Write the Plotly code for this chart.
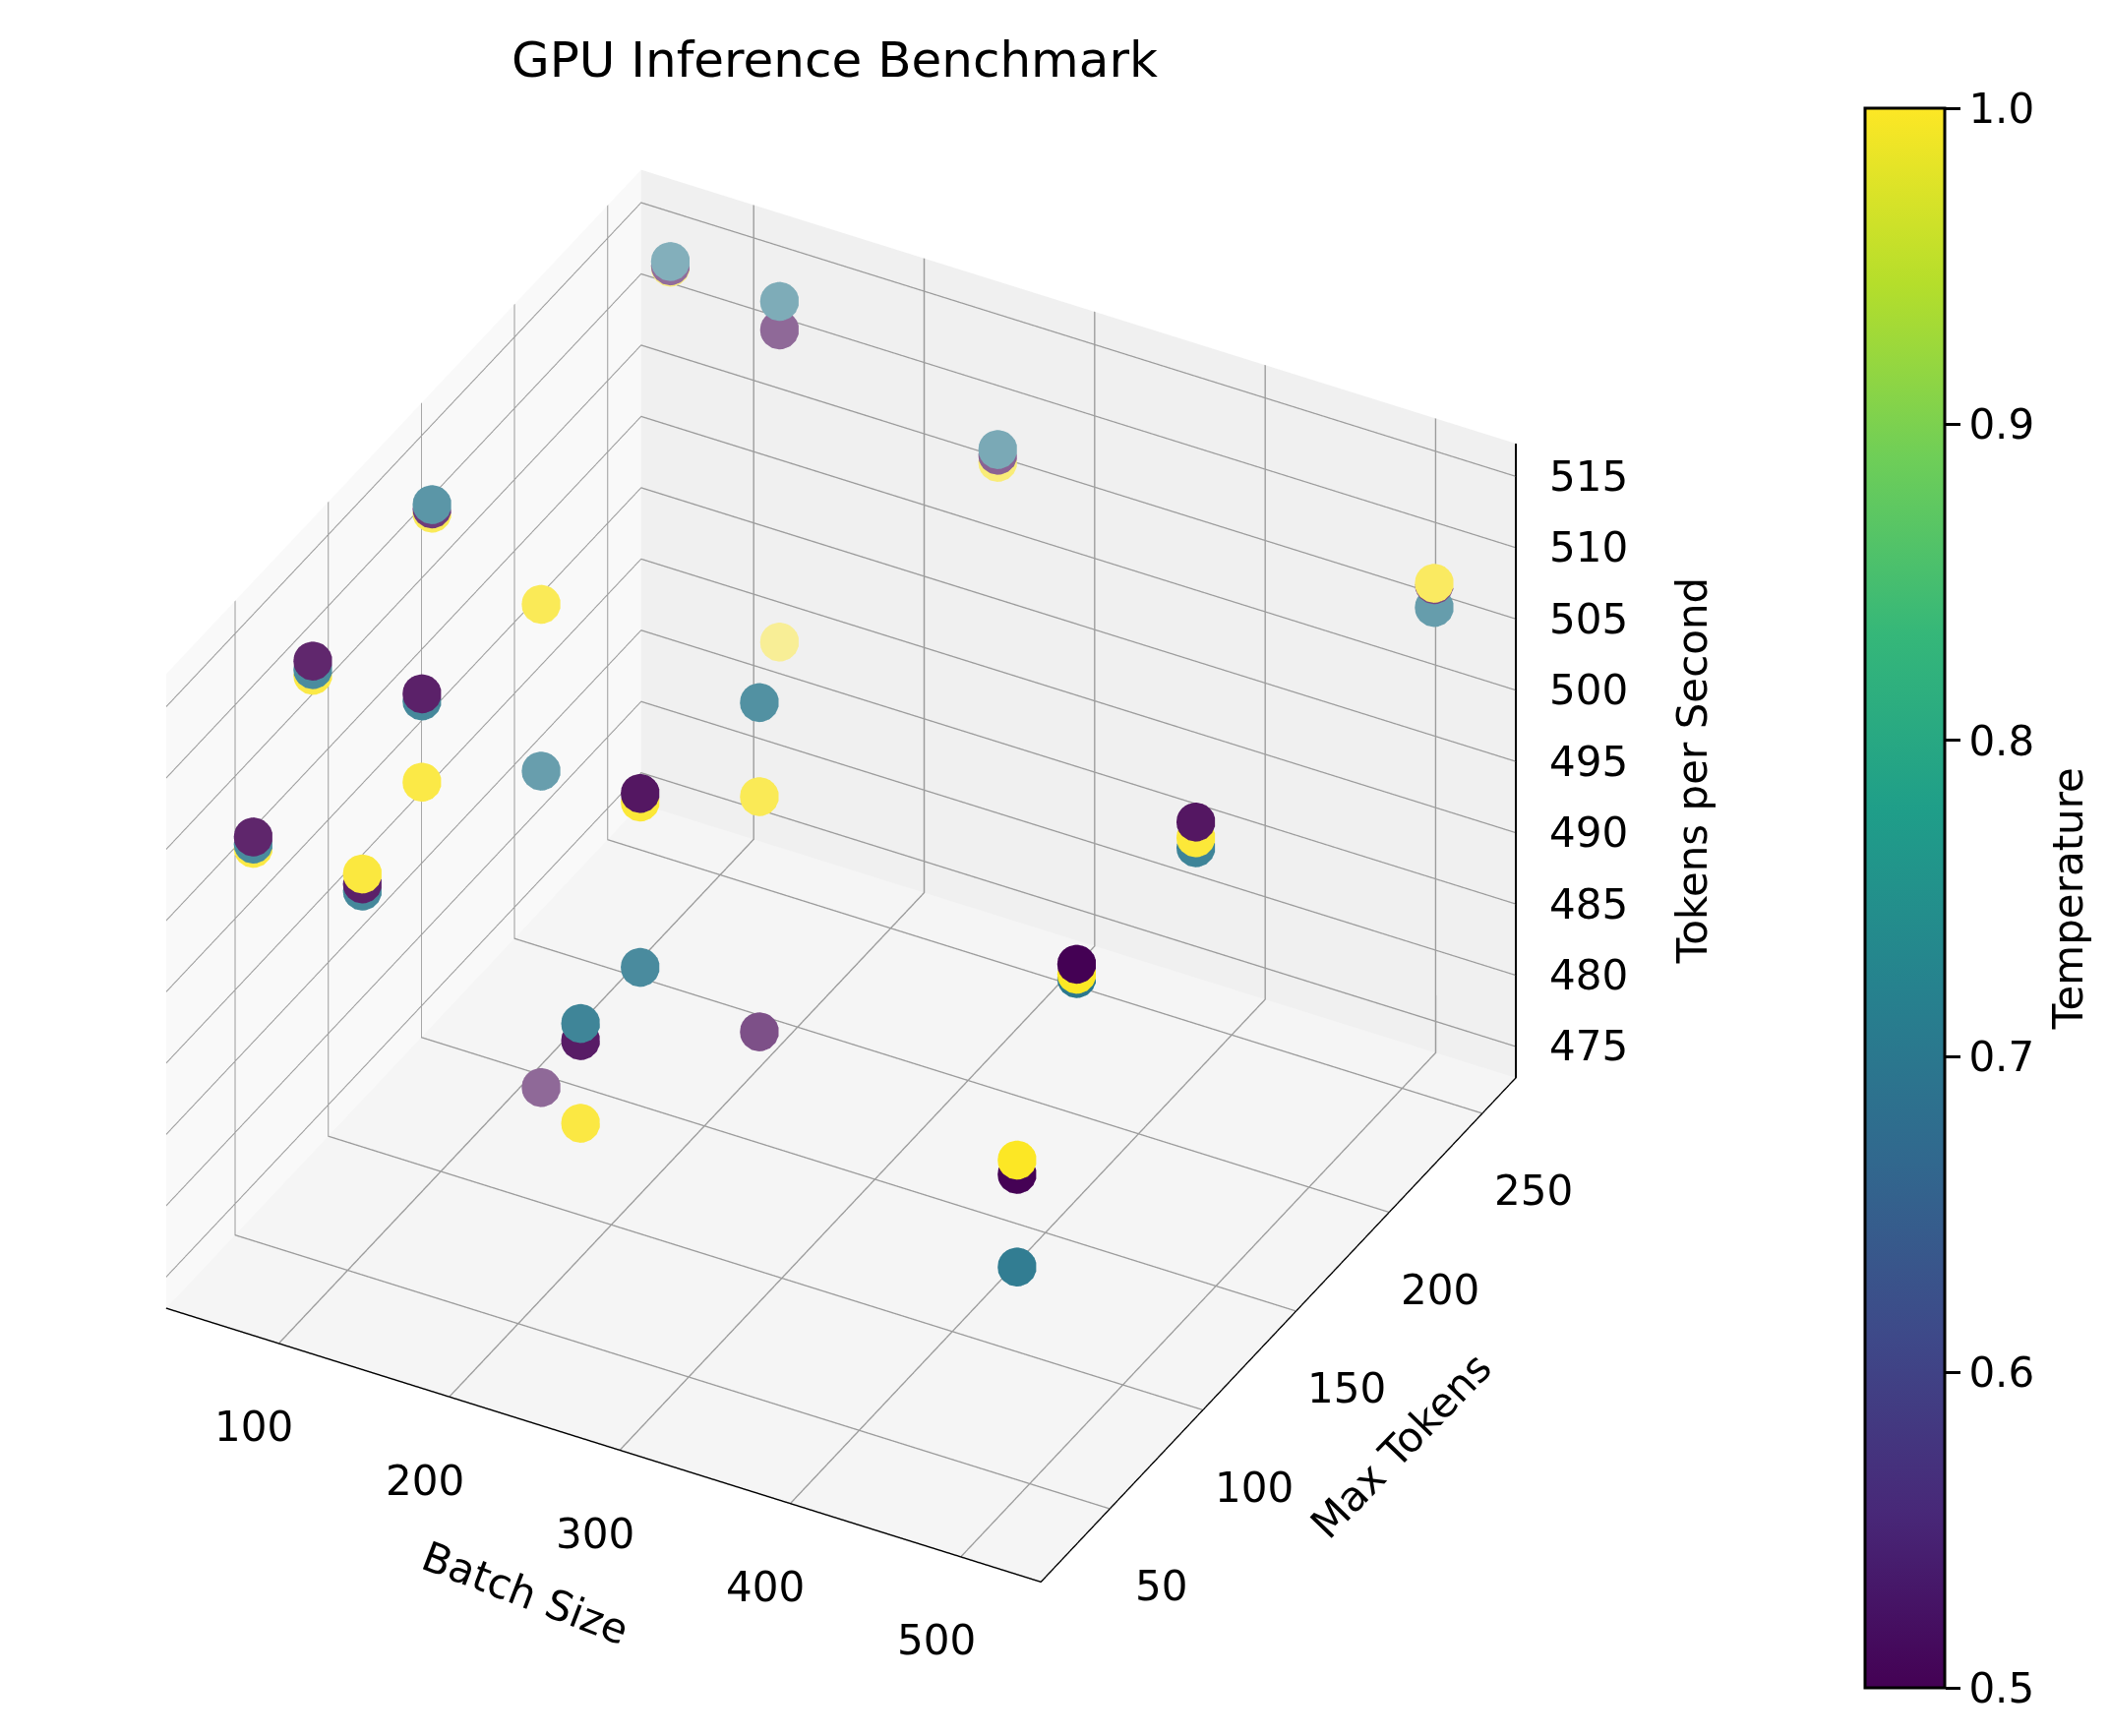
import math
import plotly.graph_objects as go
from plotly.colors import sample_colorscale

# grid of runs
batch_sizes = [64, 128, 256, 512]
max_tokens = [32, 64, 128, 256]
temperatures = [0.5, 0.7, 1.0]

# tokens/sec per temperature, ordered batch-major (64x32, 64x64, ... 512x256)
tps_temp_05 = [504.4, 512.3, 514.1, 513.4,
               503.5, 512.4, 475.9, 511.3,
               497.3, 510.2, 484.6, 507.3,
               497.5, 507.8, 508.9, 507.8]
tps_temp_07 = [503.9, 511.7, 514.4, 513.7,
               503.0, 511.9, 498.1, 513.3,
               498.5, 498.0, 507.7, 507.7,
               491.0, 506.8, 507.1, 506.2]
tps_temp_10 = [503.6, 511.3, 513.8, 513.3,
               504.2, 506.2, 509.8, 489.4,
               491.5, 509.6, 501.1, 506.8,
               498.5, 507.1, 507.8, 507.9]

x_ticks = [100, 200, 300, 400, 500]
y_ticks = [50, 100, 150, 200, 250]
z_ticks = [475, 480, 485, 490, 495, 500, 505, 510, 515]
cbar_ticks = [0.5, 0.6, 0.7, 0.8, 0.9, 1.0]

X_RANGE = [34, 547]
Y_RANGE = [13, 268]
Z_RANGE = [472.8, 517.3]

# camera close to matplotlib's default view
ELEV, AZIM = 35.2, -61.5
R = 1.72
BOX = 1.165
Z_ASPECT = 0.78
cam = (math.cos(math.radians(ELEV)) * math.cos(math.radians(AZIM)),
       math.cos(math.radians(ELEV)) * math.sin(math.radians(AZIM)),
       math.sin(math.radians(ELEV)))

xs, ys, zs, cs = [], [], [], []
for temp, tps in zip(temperatures, [tps_temp_05, tps_temp_07, tps_temp_10]):
    i = 0
    for b in batch_sizes:
        for m in max_tokens:
            xs.append(b)
            ys.append(m)
            zs.append(tps[i])
            cs.append(temp)
            i += 1

# depth shading like mpl's depthshade: far points fade towards the pane colour
depth = []
for x, y, z in zip(xs, ys, zs):
    nx = (x - X_RANGE[0]) / (X_RANGE[1] - X_RANGE[0])
    ny = (y - Y_RANGE[0]) / (Y_RANGE[1] - Y_RANGE[0])
    nz = (z - Z_RANGE[0]) / (Z_RANGE[1] - Z_RANGE[0]) * Z_ASPECT
    depth.append(nx * cam[0] + ny * cam[1] + nz * cam[2])
dmin, dmax = min(depth), max(depth)

colors = []
for c, d in zip(cs, depth):
    alpha = 0.45 + 0.55 * (d - dmin) / (dmax - dmin)
    rgb = sample_colorscale("Viridis", [(c - 0.5) / 0.5])[0]
    r, g, b = [float(v) for v in rgb[rgb.index("(") + 1:-1].split(",")]
    bg = 244
    colors.append("rgb(%d,%d,%d)" % (r * alpha + bg * (1 - alpha),
                                     g * alpha + bg * (1 - alpha),
                                     b * alpha + bg * (1 - alpha)))

FONT = "DejaVu Sans"
text_font = dict(family=FONT, size=42, color="black")

fig = go.Figure()
fig.add_trace(go.Scatter3d(
    x=xs, y=ys, z=zs,
    mode="markers",
    marker=dict(size=23, color=colors, line=dict(width=0)),
    showlegend=False,
    hoverinfo="x+y+z",
))

# z axis drawn on the right-hand corner, like matplotlib does
fig.add_trace(go.Scatter3d(
    x=[X_RANGE[1], X_RANGE[1]], y=[Y_RANGE[1], Y_RANGE[1]], z=Z_RANGE,
    mode="lines",
    line=dict(color="black", width=4),
    showlegend=False,
    hoverinfo="skip",
))

# colorbar only
fig.add_trace(go.Scatter3d(
    x=[None], y=[None], z=[None],
    mode="markers",
    marker=dict(
        color=[0.5],
        colorscale="Viridis",
        cmin=0.5, cmax=1.0,
        showscale=True,
        colorbar=dict(
            tickvals=cbar_ticks,
            ticktext=[f"{t:.1f}" for t in cbar_ticks],
            tickfont=text_font,
            ticks="outside", ticklen=15, tickwidth=3, tickcolor="black",
            outlinecolor="black", outlinewidth=3,
            thickness=81,
            lenmode="fraction", len=0.921,
            x=0.876, xanchor="left",
            y=0.487, yanchor="middle",
        ),
    ),
    showlegend=False,
))

# axis tick labels and titles as flat text, placed at the axes' 3d positions
labels = []
for t in x_ticks:
    labels.append(dict(x=t, y=Y_RANGE[0], z=Z_RANGE[0], text=str(t),
                       xshift=-25, yshift=-85))
for t in y_ticks:
    labels.append(dict(x=X_RANGE[1], y=t, z=Z_RANGE[0], text=str(t),
                       xshift=52, yshift=-79))
for t in z_ticks:
    labels.append(dict(x=X_RANGE[1], y=Y_RANGE[1], z=t, text=str(t),
                       xanchor="left", xshift=32))
labels.append(dict(x=sum(X_RANGE) / 2, y=Y_RANGE[0], z=Z_RANGE[0],
                   text="Batch Size", textangle=21, xshift=-80, yshift=-150))
labels.append(dict(x=X_RANGE[1], y=sum(Y_RANGE) / 2, z=Z_RANGE[0],
                   text="Max Tokens", textangle=-46, xshift=125, yshift=-117))
labels.append(dict(x=X_RANGE[1], y=Y_RANGE[1], z=sum(Z_RANGE) / 2,
                   text="Tokens per Second", textangle=-90, xshift=180,
                   yshift=-10))
for lab in labels:
    lab.setdefault("xanchor", "center")
    lab.update(showarrow=False, font=text_font)


def axis_style(tickvals, rng, pane, line=True):
    return dict(
        title=dict(text=""),
        tickvals=tickvals,
        range=rng,
        showticklabels=False,
        showbackground=True,
        backgroundcolor=pane,
        gridcolor="#9c9c9c",
        gridwidth=3,
        showline=line,
        linecolor="black",
        linewidth=3,
        ticks="",
        zeroline=False,
        showspikes=False,
    )


fig.update_layout(
    width=2144,
    height=1765,
    paper_bgcolor="white",
    margin=dict(l=0, r=0, t=0, b=0),
    font=dict(family=FONT),
    title=dict(
        text="GPU Inference Benchmark",
        font=dict(family=FONT, size=50, color="black"),
        x=0.392, xanchor="center",
        y=0.97, yanchor="middle",
    ),
    annotations=[dict(
        text="Temperature",
        font=text_font,
        textangle=-90,
        x=0.977, y=0.487,
        xref="paper", yref="paper",
        xanchor="center", yanchor="middle",
        showarrow=False,
    )],
    scene=dict(
        domain=dict(x=[0.0, 0.79], y=[0.008, 0.992]),
        xaxis=axis_style(x_ticks, X_RANGE, "#f9f9f9"),
        yaxis=axis_style(y_ticks, Y_RANGE, "#f0f0f0"),
        zaxis=axis_style(z_ticks, Z_RANGE, "#f5f5f5", line=False),
        annotations=labels,
        aspectmode="manual",
        aspectratio=dict(x=BOX, y=BOX, z=Z_ASPECT * BOX),
        camera=dict(
            eye=dict(x=R * cam[0], y=R * cam[1], z=R * cam[2]),
            center=dict(x=0, y=0, z=0),
            up=dict(x=0, y=0, z=1),
            projection=dict(type="orthographic"),
        ),
    ),
)

fig.write_html("out.html")
